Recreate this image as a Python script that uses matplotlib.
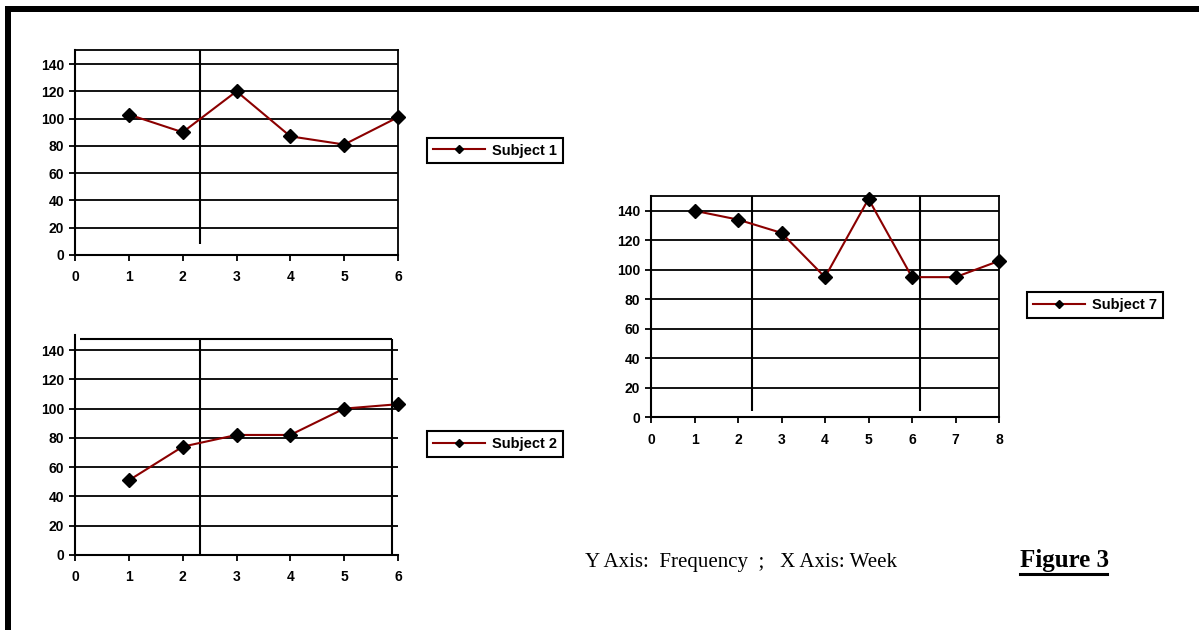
import matplotlib
matplotlib.use("Agg")
import matplotlib.pyplot as plt
from matplotlib.patches import Rectangle
from matplotlib.lines import Line2D

# ---- data ----
weeks_s1 = [1, 2, 3, 4, 5, 6]
freq_s1 = [103, 90, 120, 87, 81, 101]
weeks_s2 = [1, 2, 3, 4, 5, 6]
freq_s2 = [51, 74, 82, 82, 100, 103]
weeks_s7 = [1, 2, 3, 4, 5, 6, 7, 8]
freq_s7 = [140, 134, 125, 95, 148, 95, 95, 106]
y_ticks = [0, 20, 40, 60, 80, 100, 120, 140]
phase_s1 = [2.32]
phase_s2 = [2.32, 5.88]
phase_s7 = [2.33, 6.18]
labels = ["Subject 1", "Subject 2", "Subject 7"]

LINE_COLOR = "#8b0000"
W, H = 1199, 630
fig = plt.figure(figsize=(W / 100, H / 100), dpi=100)
fig.patch.set_facecolor("white")

tick_font = dict(family="Liberation Sans", weight="bold", size=10)


def px_axes(x0, x1, y0, y1):
    return fig.add_axes([x0 / W, (H - y0) / H, (x1 - x0) / W, (y0 - y1) / H])


def style(ax, xmax, right_spine=True, top_spine=True):
    ax.set_xlim(0, xmax)
    ax.set_ylim(0, 150)
    ax.set_yticks(y_ticks)
    ax.set_xticks(range(0, xmax + 1))
    for y in y_ticks[1:]:
        ax.axhline(y, color="black", lw=1.3, zorder=1)
    for s in ["left", "bottom"]:
        ax.spines[s].set_linewidth(1.5)
        ax.spines[s].set_color("black")
    ax.spines["right"].set_visible(right_spine)
    ax.spines["top"].set_visible(top_spine)
    ax.spines["right"].set_linewidth(1.3)
    ax.spines["top"].set_linewidth(1.3)
    ax.tick_params(direction="out", length=4, width=1.3, pad=4, colors="black")
    ax.tick_params(axis="x", pad=7)
    for lab in ax.get_xticklabels() + ax.get_yticklabels():
        lab.set_fontfamily(tick_font["family"])
        lab.set_fontweight(tick_font["weight"])
        lab.set_fontsize(tick_font["size"])
    ax.set_facecolor("white")


def series(ax, x, y):
    ax.plot(x, y, color=LINE_COLOR, lw=1.5, marker="D", ms=7,
            mfc="black", mec="black", zorder=5, clip_on=False)


# Subject 1
ax1 = px_axes(75, 398, 255, 50.4)
style(ax1, 6)
for xv in phase_s1:
    ax1.vlines(xv, 8, 150, color="black", lw=1.5, zorder=2)
series(ax1, weeks_s1, freq_s1)

# Subject 2
ax2 = px_axes(75, 398, 555, 335.4)
style(ax2, 6, right_spine=False, top_spine=False)
ax2.hlines(147.5, 0.1, phase_s2[1], color="black", lw=1.5, zorder=2)
for xv in phase_s2:
    ax2.vlines(xv, 0, 147.5, color="black", lw=1.5, zorder=2)
series(ax2, weeks_s2, freq_s2)

# Subject 7
ax7 = px_axes(651, 999, 417.3, 196)
style(ax7, 8)
for xv in phase_s7:
    ax7.vlines(xv, 4, 150, color="black", lw=1.5, zorder=2)
series(ax7, weeks_s7, freq_s7)

# legends
for lab, (cx, cy) in zip(labels, [(495, 150.5), (495, 444), (1095, 305)]):
    h = Line2D([], [], color=LINE_COLOR, lw=1.5, marker="D", ms=4.5,
               mfc="black", mec="black")
    leg = fig.legend([h], [lab], loc="center",
                     bbox_to_anchor=(cx / W, (H - cy) / H),
                     prop=dict(family="Liberation Sans", weight="bold", size=10.5),
                     frameon=True, fancybox=False, handlelength=3.6,
                     handletextpad=0.5, borderpad=0.4, borderaxespad=0)
    fr = leg.get_frame()
    fr.set_edgecolor("black")
    fr.set_linewidth(1.5)
    fr.set_alpha(1)

# captions
fig.text(585 / W, (H - 563) / H, "Y Axis:  Frequency  ;   X Axis: Week",
         family="Liberation Serif", size=15, ha="left", va="center")
fig.text(1020 / W, (H - 560) / H, "Figure 3", family="Liberation Serif",
         weight="bold", size=18, ha="left", va="center")
fig.add_artist(Line2D([1020 / W, 1107 / W], [(H - 574) / H] * 2,
                      color="black", lw=2.2, transform=fig.transFigure))

# frame bars
fig.add_artist(Rectangle((5 / W, (H - 12) / H), (W - 5) / W, 6 / H,
                         transform=fig.transFigure, color="black", lw=0))
fig.add_artist(Rectangle((5 / W, 0), 6 / W, (H - 6) / H,
                         transform=fig.transFigure, color="black", lw=0))

fig.savefig("out.png", dpi=100, facecolor="white")
